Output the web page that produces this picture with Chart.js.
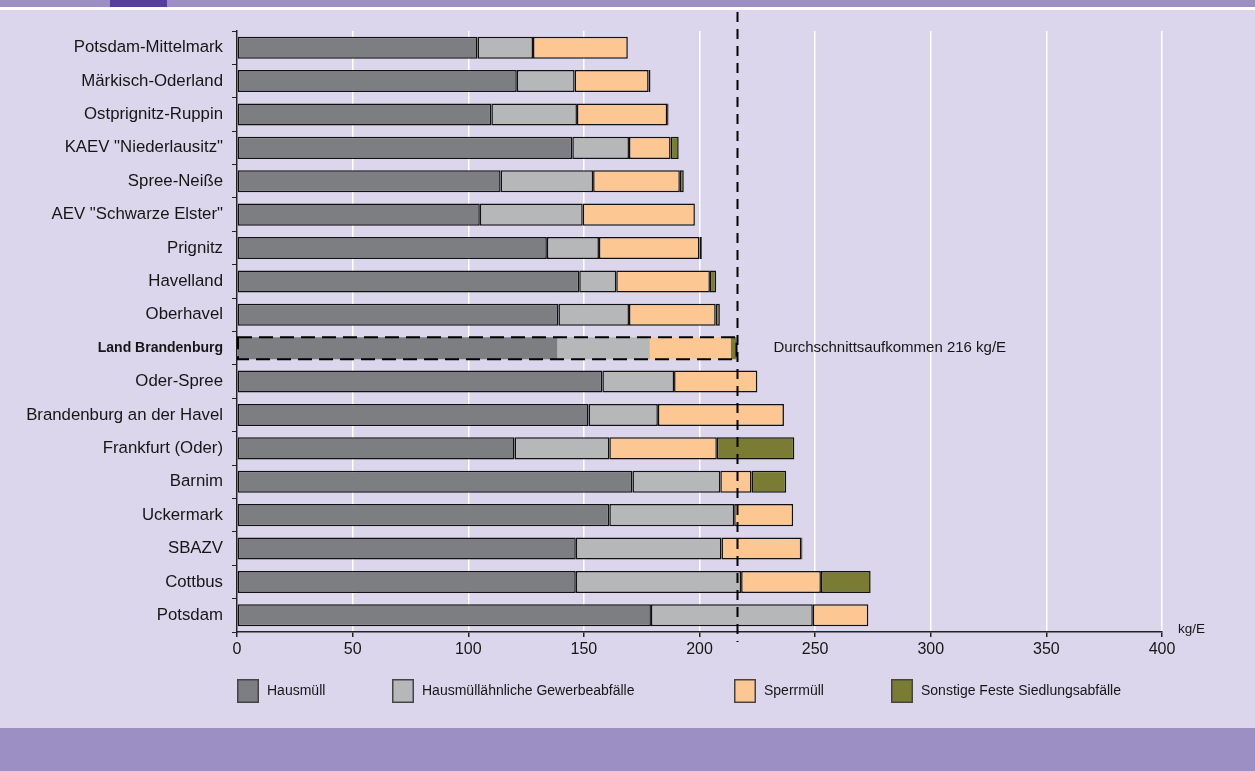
<!DOCTYPE html>
<html>
<head>
<meta charset="utf-8">
<script src="https://cdn.jsdelivr.net/npm/chart.js@4"></script>
<style>
  html, body { margin: 0; padding: 0; }
  body { width: 1255px; height: 771px; background: #dbd6eb; position: relative; overflow: hidden; }
  .band-top { position: absolute; left: 0; top: 0; width: 1255px; height: 7px; background: #9b8fc4; }
  .band-top .mark { position: absolute; left: 110px; top: 0; width: 57px; height: 7px; background: #583e9c; }
  .band-line { position: absolute; left: 0; top: 7px; width: 1255px; height: 3px; background: #ffffff; }
  .band-bottom { position: absolute; left: 0; top: 728px; width: 1255px; height: 43px; background: #9b8fc4; }
  #chart { position: absolute; left: 0; top: 0; }
</style>
</head>
<body>
<div class="band-top"><div class="mark"></div></div>
<div class="band-line"></div>
<div class="band-bottom"></div>
<canvas id="chart" width="1255" height="771"></canvas>
<script>
const regions = [
  'Potsdam-Mittelmark', 'Märkisch-Oderland', 'Ostprignitz-Ruppin', 'KAEV "Niederlausitz"',
  'Spree-Neiße', 'AEV "Schwarze Elster"', 'Prignitz', 'Havelland', 'Oberhavel',
  'Land Brandenburg', 'Oder-Spree', 'Brandenburg an der Havel', 'Frankfurt (Oder)',
  'Barnim', 'Uckermark', 'SBAZV', 'Cottbus', 'Potsdam',
];

// kg per inhabitant
const hausmuell = [104, 121, 110, 145, 114, 105, 134, 148, 139, 138.5, 158, 152, 120, 171, 161, 146.5, 146.5, 179];
const gewerbe = [24, 25, 37, 24.5, 40, 44.5, 22.5, 16, 30.5, 40, 31, 30, 41, 38, 54, 63, 71.5, 70];
const sperrmuell = [41, 32, 39, 18, 37.5, 48.5, 43.5, 40.5, 37.5, 35, 36, 54.5, 46.5, 13.5, 25.5, 34.5, 34.5, 24];
const sonstige = [0, 0.8, 0.6, 3.5, 1.7, 0, 1, 2.7, 1.8, 2.5, 0, 0, 33.5, 15, 0, 0.5, 21.5, 0];

const seriesNames = ['Hausmüll', 'Hausmüllähnliche Gewerbeabfälle', 'Sperrmüll', 'Sonstige Feste Siedlungsabfälle'];
const xTicks = [0, 50, 100, 150, 200, 250, 300, 350, 400];

const averageValue = 216;
const averageText = 'Durchschnittsaufkommen 216 kg/E';
const unitText = 'kg/E';
const landIndex = regions.indexOf('Land Brandenburg');

const COLORS = ['#7d7e82', '#b6b7b9', '#fdc794', '#7a7c33'];
const FONT = "'Liberation Sans', Arial, sans-serif";
const TEXT = '#161616';
const LINE = '#222222';

Chart.defaults.font.family = FONT;
Chart.defaults.color = TEXT;

const makeDataset = (label, data, color) => ({
  label,
  data,
  backgroundColor: color,
  borderColor: '#111111',
  borderWidth: ctx => (ctx.dataIndex === landIndex ? 0 : 1.5),
  borderSkipped: false,
  categoryPercentage: 1,
  barPercentage: 0.66,
});

const datasets = [
  makeDataset(seriesNames[0], hausmuell, COLORS[0]),
  makeDataset(seriesNames[1], gewerbe, COLORS[1]),
  makeDataset(seriesNames[2], sperrmuell, COLORS[2]),
  makeDataset(seriesNames[3], sonstige, COLORS[3]),
];

// dashed outline for the state average bar, the average line and its caption
const averagePlugin = {
  id: 'average',
  afterDatasetsDraw(chart) {
    const { ctx, chartArea, scales } = chart;
    const x = scales.x;
    const y = scales.y;
    const total = datasets.reduce((s, d) => s + d.data[landIndex], 0);
    const bar = chart.getDatasetMeta(0).data[landIndex];
    const h = bar.height;
    const cy = y.getPixelForValue(landIndex);
    const x0 = x.getPixelForValue(0);
    const x1 = x.getPixelForValue(total);

    ctx.save();
    ctx.strokeStyle = '#000';
    ctx.lineWidth = 2;
    ctx.setLineDash([14, 7]);
    ctx.strokeRect(x0 + 1, cy - h / 2, x1 - x0 - 1, h);

    // average line
    const ax = Math.round(x.getPixelForValue(averageValue)) + 0.5;
    ctx.setLineDash([10, 7]);
    ctx.beginPath();
    ctx.moveTo(ax, 12);
    ctx.lineTo(ax, chartArea.bottom + 10);
    ctx.stroke();
    ctx.setLineDash([]);

    ctx.fillStyle = TEXT;
    ctx.font = '15px ' + FONT;
    ctx.textBaseline = 'middle';
    ctx.textAlign = 'left';
    ctx.fillText(averageText, ax + 36, cy);
    ctx.restore();
  },
  afterDraw(chart) {
    const { ctx, chartArea } = chart;
    ctx.save();
    ctx.fillStyle = TEXT;
    ctx.font = '13.5px ' + FONT;
    ctx.textBaseline = 'middle';
    ctx.fillText(unitText, chartArea.right + 16, chartArea.bottom - 3);

    // legend row
    const offsets = [0, 155, 497, 654];
    const top = chartArea.bottom + 47;
    ctx.font = '14px ' + FONT;
    seriesNames.forEach((name, i) => {
      const bx = chartArea.left + offsets[i];
      ctx.fillStyle = COLORS[i];
      ctx.fillRect(bx, top, 22, 24);
      ctx.strokeStyle = '#444';
      ctx.lineWidth = 1.5;
      ctx.strokeRect(bx + 0.75, top + 0.75, 20.5, 22.5);
      ctx.fillStyle = TEXT;
      ctx.fillText(name, bx + 30, top + 12);
    });
    ctx.restore();
  },
};

new Chart(document.getElementById('chart'), {
  type: 'bar',
  data: { labels: regions, datasets },
  options: {
    indexAxis: 'y',
    responsive: false,
    animation: false,
    events: [],
    layout: {
      padding: { left: 0, right: 93, top: 31, bottom: 109 },
    },
    plugins: {
      legend: { display: false },
      tooltip: { enabled: false },
    },
    scales: {
      x: {
        type: 'linear',
        stacked: true,
        min: 0,
        max: 400,
        afterFit: scale => { scale.height = 30; },
        afterBuildTicks: scale => { scale.ticks = xTicks.map(v => ({ value: v })); },
        grid: {
          color: '#ffffff',
          lineWidth: 1.5,
          tickColor: LINE,
          tickLength: 5,
        },
        border: { color: LINE, width: 1.5 },
        ticks: {
          color: TEXT,
          font: { size: 16 },
          padding: 3,
          maxRotation: 0,
        },
      },
      y: {
        stacked: true,
        afterFit: scale => { scale.width = 237; },
        grid: {
          drawOnChartArea: false,
          tickColor: LINE,
          tickLength: 5,
          offset: true,
        },
        border: { color: LINE, width: 1.5 },
        ticks: {
          color: TEXT,
          padding: 9,
          autoSkip: false,
          font: ctx => (ctx.index === landIndex
            ? { size: 14, weight: 'bold' }
            : { size: 16.8 }),
        },
      },
    },
  },
  plugins: [averagePlugin],
});
</script>
</body>
</html>
